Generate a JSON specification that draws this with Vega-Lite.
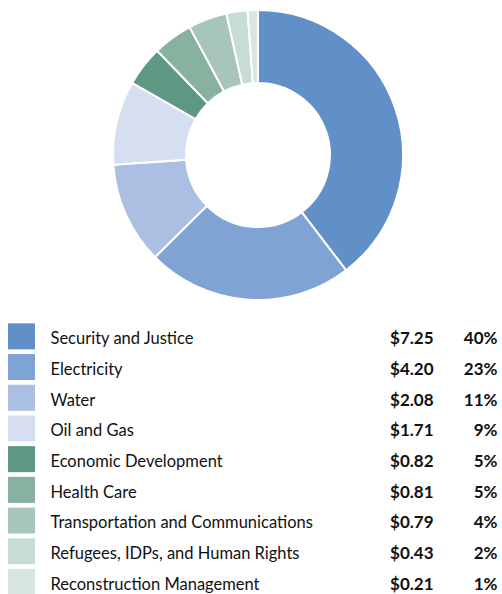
{
  "$schema": "https://vega.github.io/schema/vega-lite/v6.json",
  "padding": {"left": 8, "top": 0, "right": 0, "bottom": 0},
  "background": "white",
  "spacing": 11,
  "config": {"view": {"stroke": null}, "font": "Lato"},
  "data": {
    "values": [
      {"rank": 1, "category": "Security and Justice", "amount": 7.25, "pct": "40%"},
      {"rank": 2, "category": "Electricity", "amount": 4.20, "pct": "23%"},
      {"rank": 3, "category": "Water", "amount": 2.08, "pct": "11%"},
      {"rank": 4, "category": "Oil and Gas", "amount": 1.71, "pct": "9%"},
      {"rank": 5, "category": "Economic Development", "amount": 0.82, "pct": "5%"},
      {"rank": 6, "category": "Health Care", "amount": 0.81, "pct": "5%"},
      {"rank": 7, "category": "Transportation and Communications", "amount": 0.79, "pct": "4%"},
      {"rank": 8, "category": "Refugees, IDPs, and Human Rights", "amount": 0.43, "pct": "2%"},
      {"rank": 9, "category": "Reconstruction Management", "amount": 0.21, "pct": "1%"}
    ]
  },
  "vconcat": [
    {
      "width": 494,
      "height": 310,
      "mark": {"type": "arc", "outerRadius": 145, "innerRadius": 72, "stroke": "white", "strokeWidth": 2},
      "encoding": {
        "x": {"value": 250},
        "theta": {"field": "amount", "type": "quantitative", "stack": true},
        "order": {"field": "rank", "type": "quantitative", "sort": "ascending"},
        "color": {
          "field": "category",
          "type": "nominal",
          "legend": null,
          "scale": {
            "domain": ["Security and Justice", "Electricity", "Water", "Oil and Gas", "Economic Development", "Health Care", "Transportation and Communications", "Refugees, IDPs, and Human Rights", "Reconstruction Management"],
            "range": ["#6190C9", "#80A3D6", "#AABFE2", "#D6DFF1", "#5E9883", "#87B2A0", "#A7C6B9", "#C7DCD4", "#D8E6E1"]
          }
        }
      }
    },
    {
      "width": 494,
      "height": 273,
      "encoding": {
        "y": {
          "field": "rank",
          "type": "quantitative",
          "axis": null,
          "scale": {"domain": [0.5, 9.3925], "reverse": true, "nice": false, "zero": false}
        }
      },
      "layer": [
        {
          "mark": {"type": "rect", "height": 26, "clip": true},
          "encoding": {
            "x": {"value": 0},
            "x2": {"value": 27},
            "color": {"field": "category", "type": "nominal", "legend": null}
          }
        },
        {
          "mark": {"type": "text", "align": "left", "baseline": "middle", "dy": 2.8, "fontSize": 16.5, "color": "#111", "clip": true},
          "encoding": {
            "x": {"value": 42.5},
            "text": {"field": "category"}
          }
        },
        {
          "mark": {"type": "text", "align": "right", "baseline": "middle", "dy": 2.8, "fontSize": 17, "fontWeight": "bold", "color": "#111", "clip": true},
          "encoding": {
            "x": {"value": 425.5},
            "text": {"field": "amount", "type": "quantitative", "format": "$.2f"}
          }
        },
        {
          "mark": {"type": "text", "align": "right", "baseline": "middle", "dy": 2.8, "fontSize": 17, "fontWeight": "bold", "color": "#111", "clip": true},
          "encoding": {
            "x": {"value": 489.5},
            "text": {"field": "pct"}
          }
        }
      ]
    }
  ]
}
